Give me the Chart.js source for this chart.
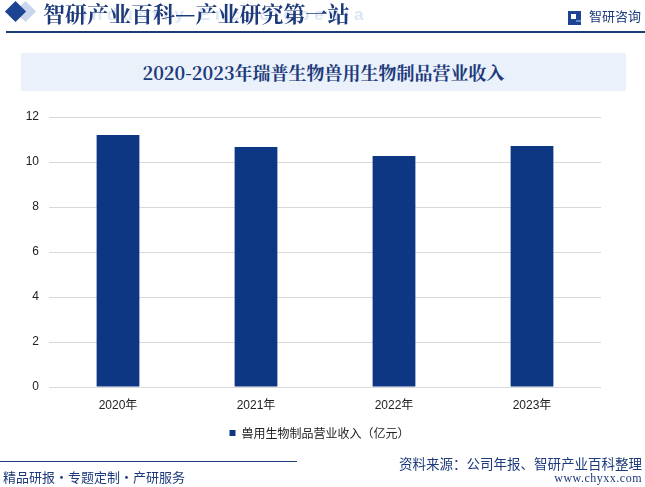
<!DOCTYPE html>
<html><head><meta charset="utf-8">
<script src="https://cdn.jsdelivr.net/npm/chart.js@4/dist/chart.umd.min.js"></script>
<style>
html,body{margin:0;padding:0;width:645px;height:487px;overflow:hidden;background:#fff;font-family:"Noto Sans CJK SC","Liberation Sans",sans-serif;}
#c{position:absolute;left:0;top:0;}
.abs{position:absolute;white-space:nowrap;}
</style></head><body>
<canvas id="c" width="645" height="487"></canvas>
<div class="abs" style="left:18px;top:4px;width:15px;height:15px;background:#c9d6ec;transform:rotate(45deg);"></div>
<div class="abs" style="left:8px;top:4px;width:15px;height:15px;background:#1d4393;transform:rotate(45deg);"></div>
<div class="abs" style="left:82px;top:5px;font-family:'Liberation Sans',sans-serif;font-size:17px;font-weight:bold;color:#dce6f5;letter-spacing:5px;">Industry Encyclopedia</div>
<div class="abs" style="left:43px;top:-3px;font-family:'Noto Serif CJK SC','Noto Sans CJK SC',serif;font-size:22px;font-weight:bold;color:#1d3a7a;">智研产业百科—产业研究第一站</div>
<div class="abs" style="left:568px;top:11px;width:13px;height:14px;background:#1d4393;"></div>
<div class="abs" style="left:571px;top:14px;width:5px;height:5px;background:#fff;"></div>
<div class="abs" style="left:576px;top:20px;width:5px;height:2px;background:#5b8ad0;"></div>
<div class="abs" style="left:589px;top:6px;font-size:13px;color:#1d3a7a;">智研咨询</div>
<div class="abs" style="left:6px;top:31px;width:639px;height:2px;background:#1d3a7a;"></div>
<div class="abs" style="left:21px;top:53px;width:605px;height:38px;background:#eaf1fb;"></div>
<div class="abs" style="left:21px;top:53px;width:605px;height:38px;line-height:38px;text-align:center;font-family:'Noto Serif CJK SC','Noto Sans CJK SC',serif;font-size:18px;font-weight:bold;color:#1d3a7a;">2020-2023年瑞普生物兽用生物制品营业收入</div>
<div class="abs" style="left:0px;top:461px;width:297px;height:1px;background:#1d3a7a;"></div>
<div class="abs" style="left:3px;top:467px;font-size:13px;color:#1d3a7a;">精品研报・专题定制・产研服务</div>
<div class="abs" style="right:3px;top:453px;font-size:13.5px;color:#1d3a7a;">资料来源：公司年报、智研产业百科整理</div>
<div class="abs" style="right:3px;top:471px;font-family:'Liberation Serif',serif;font-size:12px;letter-spacing:0.5px;color:#1d3a7a;">www.chyxx.com</div>
<script>
const categories = ["2020年","2021年","2022年","2023年"];
const revenue = [11.2, 10.67, 10.27, 10.71];
const seriesName = "兽用生物制品营业收入（亿元）";
const shiftLegend = { id: 'shiftLegend', beforeDraw(chart) { if (chart.legend) { chart.legend.left = 38; } } };
new Chart(document.getElementById('c'), {
  type: 'bar',
  data: { labels: categories, datasets: [{ label: seriesName, data: revenue, backgroundColor: '#0e3783', categoryPercentage: 1, barPercentage: 0.31 }] },
  plugins: [shiftLegend],
  options: {
    responsive: false, animation: false,
    layout: { padding: { left: 0, right: 44, top: 117, bottom: 38 } },
    plugins: {
      legend: { position: 'bottom', labels: { boxWidth: 6, boxHeight: 6, color: '#222', font: { size: 12, family: "'Noto Sans CJK SC'" } } },
      tooltip: { enabled: false }
    },
    scales: {
      x: { grid: { display: false }, border: { display: false }, ticks: { color: '#222', font: { size: 12, family: "'Liberation Sans','Noto Sans CJK SC'" } },
           afterFit: s => { s.height = 30; } },
      y: { min: 0, max: 12, ticks: { stepSize: 2, color: '#222', padding: 10, font: { size: 12, family: "'Liberation Sans'" } },
           grid: { color: '#d9d9d9', drawTicks: false }, border: { display: false },
           afterFit: s => { s.width = 49; } }
    }
  }
});
</script>
</body></html>
